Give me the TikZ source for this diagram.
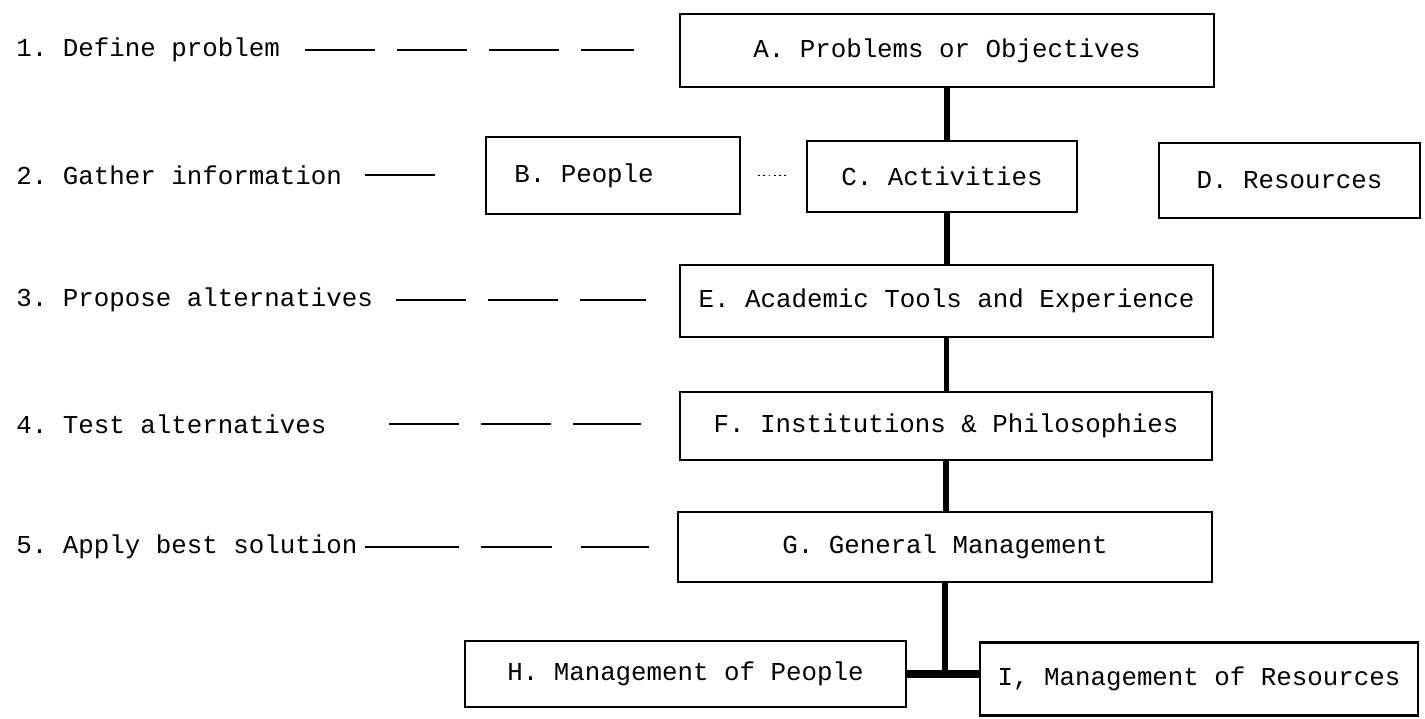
\documentclass[tikz,border=0pt]{standalone}
\usepackage{fontspec}
\setmonofont{Liberation Mono}
\usepackage{tikz}
\usetikzlibrary{calc}

\begin{document}
\begin{tikzpicture}[x=0.02cm,y=-0.02cm,
 stage/.style={draw,line width=1.3pt,align=center,inner sep=0pt,
 font=\ttfamily\fontsize{14.7}{17}\selectfont},
 stepText/.style={anchor=west,inner sep=0pt,font=\ttfamily\fontsize{14.7}{17}\selectfont},
 guide/.style={line width=1.2pt,dash pattern=on 1.4cm off 0.44cm},
 link/.style={line width=3pt},
 bar/.style={line width=4.5pt}]
 \useasboundingbox (0,0) rectangle (1425,719);
 % boxes
 \node[stage,minimum width=10.68cm,minimum height=1.46cm] (probA) at (947,50.5) {A. Problems or Objectives};
 \node[stage,minimum width=5.08cm,minimum height=1.54cm] (peopleB) at (613,175.5) {B. People\hspace*{1.16cm}};
 \node[stage,minimum width=5.4cm,minimum height=1.42cm] (actC) at (942,176.5) {C. Activities};
 \node[stage,minimum width=5.22cm,minimum height=1.5cm] (resD) at (1289.5,180.5) {D. Resources};
 \node[stage,minimum width=10.66cm,minimum height=1.44cm] (toolE) at (946.5,301) {E. Academic Tools and Experience};
 \node[stage,minimum width=10.64cm,minimum height=1.36cm] (instF) at (946,426) {F. Institutions \& Philosophies};
 \node[stage,minimum width=10.68cm,minimum height=1.4cm] (mgmtG) at (945,547) {G. General Management};
 \node[stage,minimum width=8.82cm,minimum height=1.32cm] (mgmtH) at (685.5,674) {H. Management of People};
 \node[stage,minimum width=8.76cm,minimum height=1.46cm] (mgmtI) at (1199,679) {I, Management of Resources};
 % steps
 \node[stepText] (step1) at (16,50) {1. Define problem};
 \node[stepText] (step2) at (16,175) {2. Gather information};
 \node[stepText] (step3) at (16,300) {3. Propose alternatives};
 \node[stepText] (step4) at (16,424) {4. Test alternatives};
 \node[stepText] (step5) at (16,547) {5. Apply best solution};
 \draw[guide,shorten <=0.5cm,shorten >=0.9cm] (step1.east) -- (step1.east -| probA.west);
 \draw[guide,shorten <=0.45cm,shorten >=1cm] (step2.east) -- (step2.east -| peopleB.west);
 \draw[guide,shorten <=0.46cm,shorten >=0.66cm] (step3.east) -- (step3.east -| toolE.west);
 \draw[guide,shorten <=1.24cm,shorten >=0.76cm] (step4.east) -- (step4.east -| instF.west);
 \draw[guide,dash pattern=on 1.88cm off 0.44cm on 1.42cm off 0.58cm on 1.4cm off 1cm,
 shorten <=0.14cm,shorten >=0.56cm] (step5.east) -- (step5.east -| mgmtG.west);
 % links
 \draw[link] (probA.south) -- (probA.south |- actC.north);
 \draw[link] (probA.south |- actC.south) -- (probA.south |- toolE.north);
 \draw[link] (toolE.south) -- (toolE.south |- instF.north);
 \draw[link] (instF.south) -- (instF.south |- mgmtG.north);
 \draw[link] (mgmtG.south) -- (mgmtG.south |- mgmtH.east);
 \draw[bar] (mgmtH.east) -- (mgmtH.east -| mgmtI.west);
 \draw[line width=1pt,dotted,shorten <=0.34cm,shorten >=0.34cm] (peopleB.east) -- (peopleB.east -| actC.west);
\end{tikzpicture}
\end{document}
